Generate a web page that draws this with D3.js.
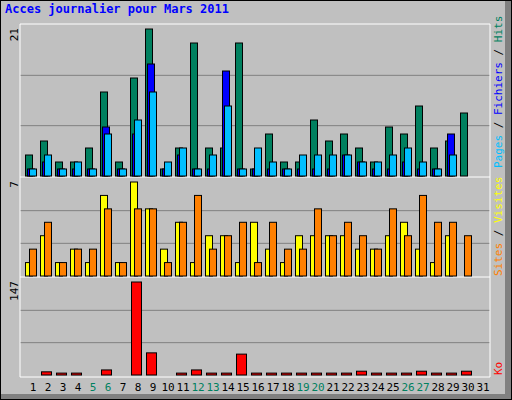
<!DOCTYPE html>
<html>
<head>
<meta charset="utf-8">
<script src="https://cdnjs.cloudflare.com/ajax/libs/d3/7.8.5/d3.min.js"></script>
<style>
  body { margin:0; background:#fff; }
  text { font-family:'DejaVu Sans Mono', monospace; }
</style>
</head>
<body>
<div id="chart"></div>
<script>
// data
var days = d3.range(1, 32);
var weekends = [5, 6, 12, 13, 19, 20, 26, 27];
var hits     = [3,5,2,2,4,12,2,14,21,1,4,19,4,4,19,1,6,2,2,8,5,6,4,2,7,6,10,4,5,9,0];
var fichiers = [1,2,1,1,1,7,1,6,16,0,1,3,1,1,15,1,1,1,1,1,1,1,3,2,1,1,2,1,1,6,0];
var pages    = [1,3,1,2,1,6,1,8,12,0,2,4,1,3,10,1,4,2,1,3,3,3,3,2,2,3,4,2,1,3,0];
var sites    = [1,3,1,2,1,6,1,7,5,0,2,4,1,3,3,1,4,2,1,3,3,3,3,2,2,3,4,2,1,3,0];
var visites  = [2,4,1,2,2,5,1,5,5,1,4,6,2,3,4,1,4,2,2,5,3,4,3,2,5,3,6,4,4,3,0];
var ko       = [0,5,3,3,0,8,0,147,35,0,3,8,3,3,33,3,3,3,3,3,3,3,6,3,3,3,6,3,3,6,0];

var W = 512, H = 400;
var svg = d3.select("#chart").append("svg").attr("width", W).attr("height", H);

svg.append("rect").attr("width", W).attr("height", H).attr("fill", "#c0c0c0");
svg.append("rect").attr("x", 0.5).attr("y", 0.5).attr("width", W - 1).attr("height", H - 1)
  .attr("fill", "none").attr("stroke", "#000");
svg.append("rect").attr("x", 505).attr("y", 1).attr("width", 6).attr("height", H - 2).attr("fill", "#808080");
svg.append("rect").attr("x", 1).attr("y", 394).attr("width", 510).attr("height", 5).attr("fill", "#808080");

svg.append("text").attr("x", 5).attr("y", 13).attr("fill", "#0000ff")
  .attr("font-size", 12).attr("font-weight", "bold").text("Acces journalier pour Mars 2011");

var x = d3.scaleBand().domain(days).range([25, 490]);

// panels
var panels = [
  {top: 25, bottom: 176, max: 21, label: "21"},
  {top: 178, bottom: 276, max: 7, label: "7"},
  {top: 278, bottom: 375, max: 147, label: "147"}
];
panels.forEach(function(p) {
  p.y = d3.scaleLinear().domain([0, p.max]).range([p.bottom, p.top + 4]);
  svg.append("line").attr("x1", 20).attr("x2", 490).attr("y1", p.top - 1).attr("y2", p.top - 1)
    .attr("stroke", "#fff");
  var h = p.bottom - p.top;
  [1, 2].forEach(function(k) {
    svg.append("line").attr("x1", 20).attr("x2", 490)
      .attr("y1", p.top + h * k / 3).attr("y2", p.top + h * k / 3).attr("stroke", "#808080");
  });
  svg.append("text").attr("transform", "translate(18," + (p.top + 3) + ") rotate(-90)")
    .attr("text-anchor", "end").attr("font-size", 11).attr("fill", "#000").text(p.label);
});
svg.append("line").attr("x1", 20).attr("x2", 20).attr("y1", 24).attr("y2", 377).attr("stroke", "#fff");
svg.append("line").attr("x1", 490).attr("x2", 490).attr("y1", 24).attr("y2", 377).attr("stroke", "#fff");
svg.append("line").attr("x1", 20).attr("x2", 490).attr("y1", 377).attr("y2", 377).attr("stroke", "#fff");

function bars(values, panel, dx, w, color) {
  svg.append("g").selectAll("rect").data(values).enter().append("rect")
    .filter(function(d) { return d > 0 || color === "#ff0000"; })
    .attr("x", function(d, i) { return x(i + 1) + dx + 0.5; })
    .attr("y", function(d) { return panel.y(d); })
    .attr("width", w)
    .attr("height", function(d) { return panel.bottom - panel.y(d); })
    .attr("fill", color).attr("stroke", "#000");
}
bars(hits, panels[0], 0, 7, "#00805f");
bars(fichiers, panels[0], 2, 7, "#0000ff");
bars(pages, panels[0], 4, 7, "#00bfff");
bars(sites, panels[1], 0, 7, "#ffff00");
bars(visites, panels[1], 4, 7, "#ff8000");
bars(ko.slice(0, 30), panels[2], 1, 10, "#ff0000");

// day labels
svg.append("g").selectAll("text").data(days).enter().append("text")
  .attr("x", function(d) { return x(d) + 8; }).attr("y", 391)
  .attr("text-anchor", "middle").attr("font-size", 11)
  .attr("fill", function(d) { return weekends.indexOf(d) >= 0 ? "#00805f" : "#000"; })
  .text(function(d) { return d; });

// right-side legends
function legend(yBottom, parts) {
  var t = svg.append("text").attr("transform", "translate(502," + yBottom + ") rotate(-90)")
    .attr("font-size", 11);
  parts.forEach(function(p) { t.append("tspan").attr("fill", p[1]).text(p[0]); });
}
legend(168, [["Pages", "#00bfff"], [" / ", "#000"], ["Fichiers", "#0000ff"], [" / ", "#000"], ["Hits", "#00805f"]]);
legend(276, [["Sites", "#ff8000"], [" / ", "#000"], ["Visites", "#ffff00"]]);
legend(375, [["Ko", "#ff0000"]]);
</script>
</body>
</html>
